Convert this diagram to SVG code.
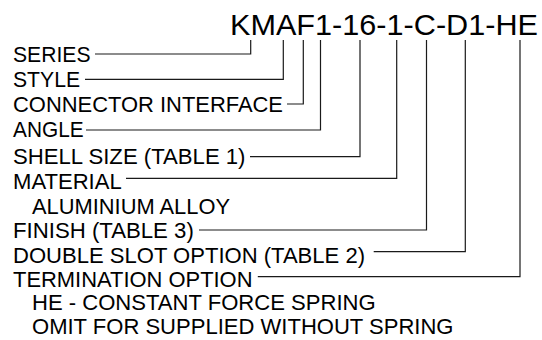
<svg xmlns="http://www.w3.org/2000/svg" width="542" height="340" viewBox="0 0 542 340">
<style>
.t{font-family:"Liberation Sans",Arial,Helvetica,sans-serif;font-size:21.3px;fill:#000}
.title{font-family:"Liberation Sans",Arial,Helvetica,sans-serif;font-size:30px;fill:#000}
.c{fill:none;stroke:#1a1a1a;stroke-width:1.2}
</style>
<rect width="542" height="340" fill="#fff"/>
<g id="part-number"><text class="title" x="230" y="35" textLength="308" lengthAdjust="spacingAndGlyphs">KMAF1-16-1-C-D1-HE</text></g>
<g id="series"><text class="t" x="13" y="62.3" textLength="77.5" lengthAdjust="spacingAndGlyphs">SERIES</text></g>
<g id="style"><text class="t" x="13" y="86.7" textLength="67" lengthAdjust="spacingAndGlyphs">STYLE</text></g>
<g id="connector-interface"><text class="t" x="13" y="111.7" textLength="270" lengthAdjust="spacingAndGlyphs">CONNECTOR INTERFACE</text></g>
<g id="angle"><text class="t" x="13" y="136.7" textLength="70.6" lengthAdjust="spacingAndGlyphs">ANGLE</text></g>
<g id="shell-size"><text class="t" x="13" y="164" textLength="232.5" lengthAdjust="spacingAndGlyphs">SHELL SIZE (TABLE 1)</text></g>
<g id="material"><text class="t" x="13" y="189.3" textLength="108.7" lengthAdjust="spacingAndGlyphs">MATERIAL</text><text class="t" x="32" y="214" textLength="198" lengthAdjust="spacingAndGlyphs">ALUMINIUM ALLOY</text></g>
<g id="finish"><text class="t" x="13" y="238.3" textLength="180.8" lengthAdjust="spacingAndGlyphs">FINISH (TABLE 3)</text></g>
<g id="double-slot"><text class="t" x="13" y="262.7" textLength="352" lengthAdjust="spacingAndGlyphs">DOUBLE SLOT OPTION (TABLE 2)</text></g>
<g id="termination"><text class="t" x="13" y="286.7" textLength="239.5" lengthAdjust="spacingAndGlyphs">TERMINATION OPTION</text><text class="t" x="32" y="310" textLength="343.6" lengthAdjust="spacingAndGlyphs">HE - CONSTANT FORCE SPRING</text><text class="t" x="32" y="334.3" textLength="421.5" lengthAdjust="spacingAndGlyphs">OMIT FOR SUPPLIED WITHOUT SPRING</text></g>
<g id="connectors">
<polyline class="c" points="95,54 250.7,54 250.7,40"/>
<polyline class="c" points="85,79.3 283.3,79.3 283.3,40"/>
<polyline class="c" points="287,104 303.3,104 303.3,40"/>
<polyline class="c" points="86,130 320.5,130 320.5,40"/>
<polyline class="c" points="250,156.7 360,156.7 360,40"/>
<polyline class="c" points="126,178.3 396.7,178.3 396.7,40"/>
<polyline class="c" points="199,230 426.5,230 426.5,40"/>
<polyline class="c" points="373.7,251.7 465.3,251.7 465.3,40"/>
<polyline class="c" points="257.8,276.7 520,276.7 520,40"/>
</g>
</svg>
